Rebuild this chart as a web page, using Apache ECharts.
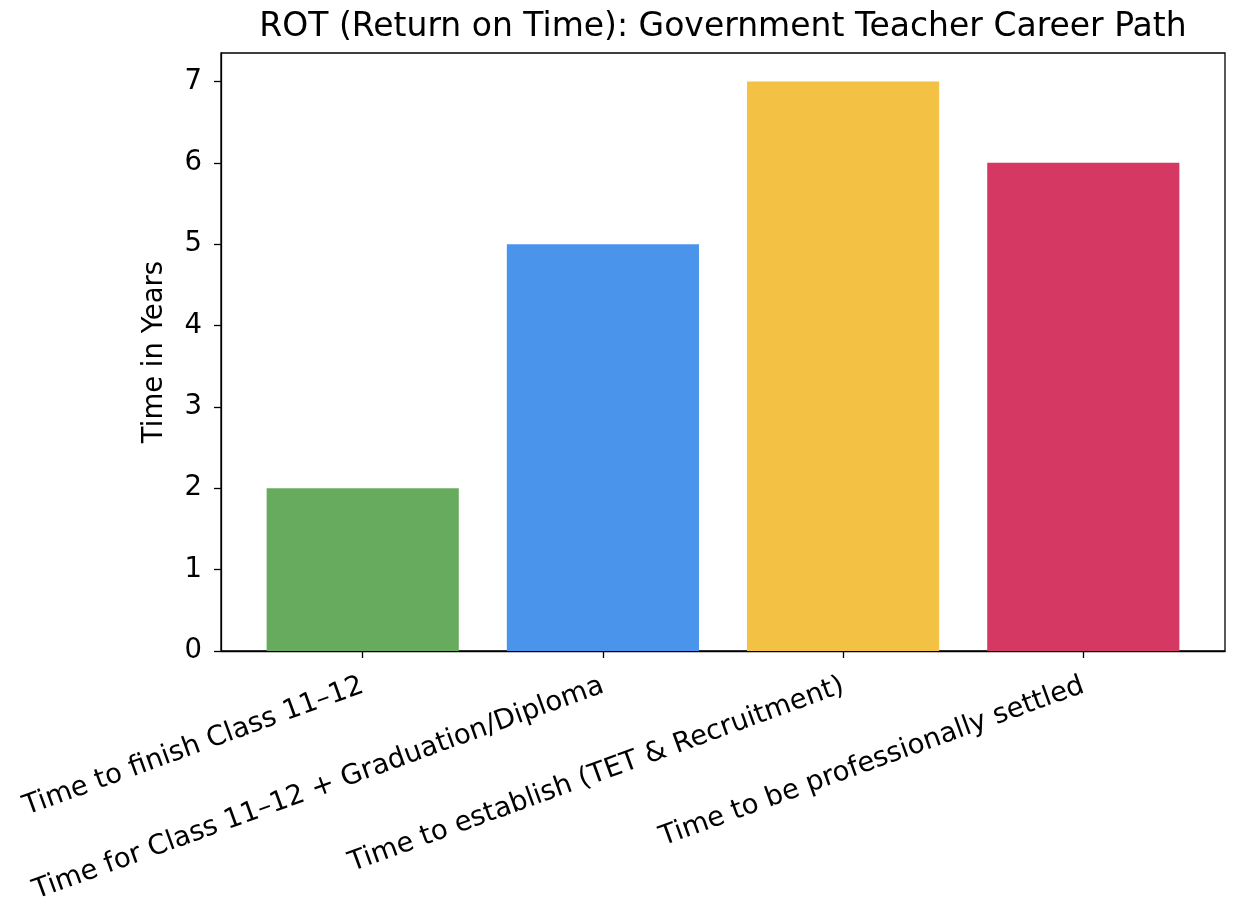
<!DOCTYPE html>
<html>
<head>
<meta charset="utf-8">
<script src="https://cdn.jsdelivr.net/npm/echarts@6/dist/echarts.min.js"></script>
<style>html,body{margin:0;padding:0;background:#fff}#c{width:1250px;height:906px}</style>
</head>
<body>
<div id="c"></div>
<script>
const categories = [
  "Time to finish Class 11\u201312",
  "Time for Class 11\u201312 + Graduation/Diploma",
  "Time to establish (TET & Recruitment)",
  "Time to be professionally settled"
];
const values = [2, 5, 7, 6];
const barColors = ["#67ac5e", "#4a94ec", "#f3c244", "#d53862"];
const yTicks = [0, 1, 2, 3, 4, 5, 6, 7];
const titleText = "ROT (Return on Time): Government Teacher Career Path";
const yAxisName = "Time in Years";

const gridLeft = 221, gridTop = 53, gridWidth = 1004, gridHeight = 598;
const xMin = -0.59, xMax = 3.59;
const barPx = 0.8 * gridWidth / (xMax - xMin);
const font = "DejaVu Sans";
const tickFont = 27.5;

const chart = echarts.init(document.getElementById('c'), null, {renderer: 'canvas'});
chart.setOption({
  animation: false,
  backgroundColor: '#fff',
  title: {
    text: titleText, left: gridLeft + gridWidth / 2, top: 11, padding: 0, textAlign: 'center',
    textStyle: {fontFamily: font, fontSize: 33, fontWeight: 'normal', color: '#000'}
  },
  grid: {left: gridLeft, top: gridTop, width: gridWidth, height: gridHeight,
         containLabel: false, outerBoundsMode: 'none',
         show: true, borderColor: '#000', borderWidth: 1.3, backgroundColor: 'transparent'},
  xAxis: {
    type: 'value', min: xMin, max: xMax,
    splitLine: {show: false},
    axisLine: {show: true, onZero: false, lineStyle: {color: '#000', width: 1.3}},
    axisTick: {show: true, customValues: [0, 1, 2, 3], length: 7, lineStyle: {color: '#000', width: 1.3}},
    axisLabel: {
      customValues: [0, 1, 2, 3], rotate: 20, margin: 34,
      fontFamily: font, fontSize: tickFont, color: '#000',
      formatter: v => categories[Math.round(v)] || ''
    }
  },
  yAxis: {
    type: 'value', min: 0, max: 7.35,
    name: yAxisName, nameLocation: 'middle', nameGap: 52, nameRotate: 90,
    nameTextStyle: {fontFamily: font, fontSize: tickFont, color: '#000'},
    splitLine: {show: false},
    axisLine: {show: true, onZero: false, lineStyle: {color: '#000', width: 1.3}},
    axisTick: {show: true, customValues: yTicks, length: 7, lineStyle: {color: '#000', width: 1.3}},
    axisLabel: {customValues: yTicks, margin: 19, fontFamily: font, fontSize: tickFont, color: '#000'}
  },
  series: [{
    type: 'bar', barWidth: barPx,
    data: values.map((v, i) => ({value: [i, v], itemStyle: {color: barColors[i]}}))
  }]
});
</script>
</body>
</html>
